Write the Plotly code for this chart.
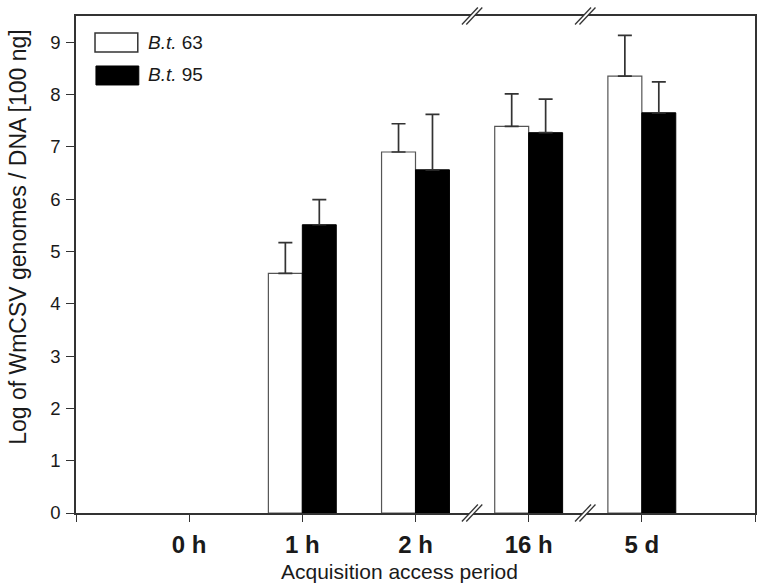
import plotly.graph_objects as go

# --- data ---
periods = ["0 h", "1 h", "2 h", "16 h", "5 d"]
series_names = ["B.t. 63", "B.t. 95"]
bt63_mean = [None, 4.58, 6.90, 7.39, 8.35]
bt63_err = [None, 0.59, 0.54, 0.62, 0.78]
bt95_mean = [None, 5.51, 6.56, 7.27, 7.65]
bt95_err = [None, 0.48, 1.06, 0.64, 0.59]
y_ticks = [0, 1, 2, 3, 4, 5, 6, 7, 8, 9]
axis_breaks = [2.5, 3.5]   # between 2 h / 16 h and 16 h / 5 d

FONT = "Liberation Sans, Arial, sans-serif"
INK = "#1a1a1a"
LINE = "#333333"

x_pos = list(range(len(periods)))

fig = go.Figure()

def err_cfg(err):
    return dict(
        type="data", array=[e if e is not None else 0 for e in err],
        arrayminus=[0] * len(err), symmetric=False,
        color=LINE, thickness=1.7, width=7,
    )

fig.add_trace(go.Bar(
    x=x_pos, y=bt63_mean, name=series_names[0],
    marker=dict(color="white", line=dict(color="#555555", width=1.2)),
    error_y=err_cfg(bt63_err), showlegend=False,
))
fig.add_trace(go.Bar(
    x=x_pos, y=bt95_mean, name=series_names[1],
    marker=dict(color="black", line=dict(color="black", width=1)),
    error_y=err_cfg(bt95_err), showlegend=False,
))

shapes = []
# axis break marks (top and bottom frame)
for xb in axis_breaks:
    for ya in (0, 1):
        shapes.append(dict(
            type="path", xref="x", yref="paper", xsizemode="pixel", ysizemode="pixel",
            xanchor=xb, yanchor=ya,
            path="M -10,-9 L -6,-9 L 10,9 L 6,9 Z",
            fillcolor="white", line=dict(width=0), layer="above",
        ))
        for d in (-2.2, 2.2):
            shapes.append(dict(
                type="line", xref="x", yref="paper", xsizemode="pixel", ysizemode="pixel",
                xanchor=xb, yanchor=ya,
                x0=-8 + d, y0=-8.5, x1=8 + d, y1=8.5,
                line=dict(color=LINE, width=1.3), layer="above",
            ))

# legend boxes (drawn by hand for the wide swatches)
shapes.append(dict(type="rect", xref="paper", yref="paper",
                   x0=0.028, x1=0.091, y0=0.9276, y1=0.9658,
                   fillcolor="white", line=dict(color=LINE, width=1.5)))
shapes.append(dict(type="rect", xref="paper", yref="paper",
                   x0=0.0294, x1=0.0925, y0=0.8612, y1=0.8994,
                   fillcolor="black", line=dict(color="black", width=1)))

def legend_label(name):
    head, tail = name.split(" ", 1)
    return f"<i>{head}</i> {tail}"

annotations = [
    dict(xref="paper", yref="paper", x=0.1028, y=0.9457, xanchor="left", yanchor="middle",
         text=legend_label(series_names[0]), showarrow=False, font=dict(size=19, color=INK)),
    dict(xref="paper", yref="paper", x=0.1028, y=0.8813, xanchor="left", yanchor="middle",
         text=legend_label(series_names[1]), showarrow=False, font=dict(size=19, color=INK)),
    # axis titles placed as annotations to match their offset positions
    dict(xref="paper", yref="paper", x=-0.0866, y=0.554, xanchor="center", yanchor="middle",
         text="Log of WmCSV genomes / DNA [100 ng]", textangle=-90, showarrow=False,
         font=dict(size=23, color=INK), borderpad=0),
    dict(xref="paper", yref="paper", x=0.4758, y=-0.1187, xanchor="center", yanchor="middle",
         text="Acquisition access period", showarrow=False, font=dict(size=21, color=INK),
         borderpad=0),
]

fig.update_layout(
    width=766, height=588,
    margin=dict(l=76, r=9, t=16, b=75),
    paper_bgcolor="white", plot_bgcolor="white",
    font=dict(family=FONT, color=INK),
    barmode="group", bargap=0.4, bargroupgap=0,
    shapes=shapes, annotations=annotations,
    showlegend=False,
)
fig.update_xaxes(
    range=[-1, len(periods)],
    tickvals=[-1] + x_pos + [len(periods)],
    ticktext=[""] + periods + [""],
    tickfont=dict(size=24, weight="bold", color=INK),
    ticks="outside", ticklen=7, tickwidth=1.3, tickcolor=LINE,
    ticklabelstandoff=2,
    showline=True, linecolor=LINE, linewidth=1.5, mirror=True,
    showgrid=False, zeroline=False,
)
fig.update_yaxes(
    range=[0, 9.5],
    tickvals=y_ticks,
    tickfont=dict(size=18.5, color=INK),
    ticks="outside", ticklen=8, tickwidth=1.3, tickcolor=LINE,
    ticklabelstandoff=2,
    showline=True, linecolor=LINE, linewidth=1.5, mirror=True,
    showgrid=False, zeroline=False,
)

# drop the page's default body margin so the figure sits at the window corner
fig.write_html("out.html", config={"displayModeBar": False},
               post_script="document.body.style.margin='0px';")
